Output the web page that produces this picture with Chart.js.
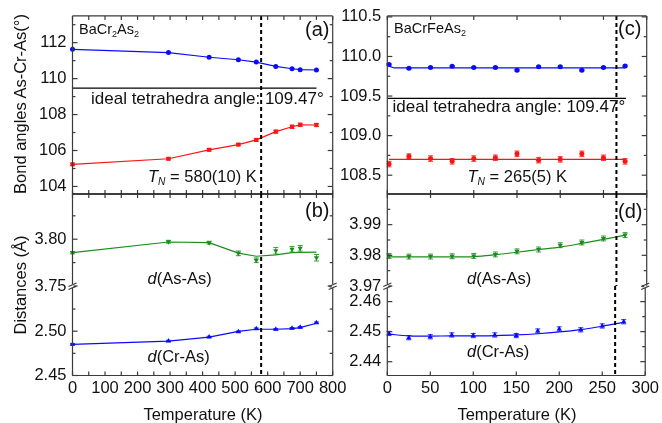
<!DOCTYPE html>
<html>
<head>
<meta charset="utf-8">
<script src="https://cdn.jsdelivr.net/npm/chart.js@4.4.0/dist/chart.umd.min.js"></script>
<style>
  body { margin: 0; background: #fff; }
  #wrap { position: relative; width: 662px; height: 423px; overflow: hidden;
          font-family: "Liberation Sans", Arial, Helvetica, sans-serif; color: #111; }
  #wrap canvas { position: absolute; left: 0; top: 0; }
  .t { position: absolute; white-space: nowrap; line-height: 1; }
  .t sub { font-size: 62%; line-height: 0; vertical-align: -0.28em; }
</style>
</head>
<body>
<div id="wrap">
  <canvas id="cA" width="662" height="423"></canvas>
  <canvas id="cB1" width="662" height="423"></canvas>
  <canvas id="cB2" width="662" height="423"></canvas>
  <canvas id="cC" width="662" height="423"></canvas>
  <canvas id="cD1" width="662" height="423"></canvas>
  <canvas id="cD2" width="662" height="423"></canvas>
</div>
<script>
// ---- BaCr2As2 (left column) ----
const tempCr = [0, 295, 420, 510, 565, 625, 675, 700, 750];
const angleHiCr = [111.63, 111.45, 111.19, 111.05, 110.92, 110.68, 110.55, 110.50, 110.48];
const angleLoCr = [105.23, 105.54, 106.04, 106.33, 106.59, 107.05, 107.32, 107.43, 107.42];
const angleLoCrErr = [0.06, 0.06, 0.06, 0.06, 0.07, 0.08, 0.09, 0.09, 0.09];
const dAsAsCr = [3.7856, 3.7973, 3.7963, 3.7849, 3.7775, 3.7877, 3.7893, 3.7903, 3.7802];
const dAsAsCrErr = [0.0012, 0.0015, 0.0015, 0.0025, 0.0025, 0.0035, 0.003, 0.003, 0.0035];
const dAsAsCrFit = [3.7856, 3.7970, 3.7963, 3.7852, 3.7818, 3.7833, 3.7856, 3.7860, 3.7862];
const dCrAsCr = [2.4852, 2.4889, 2.4935, 2.4994, 2.5028, 2.5021, 2.5033, 2.5044, 2.5096];
const dCrAsCrErr = [0.0008, 0.0008, 0.0008, 0.0008, 0.0008, 0.0008, 0.0008, 0.0008, 0.0008];
const dCrAsCrFit = [2.4852, 2.4887, 2.4933, 2.4997, 2.5022, 2.5022, 2.5030, 2.5040, 2.5090];
const idealTempCr = [0, 750];
const tnCr = 580;

// ---- BaCrFeAs2 (right column) ----
const tempFe = [2, 25, 50, 75, 100, 125, 150, 175, 200, 225, 250, 275];
const angleHiFe = [109.90, 109.85, 109.86, 109.875, 109.86, 109.86, 109.825, 109.87, 109.87, 109.825, 109.86, 109.88];
const angleHiFeErr = [0.01, 0.01, 0.01, 0.01, 0.01, 0.01, 0.01, 0.01, 0.01, 0.01, 0.01, 0.01];
const fitTempHiFe = [2, 8, 275];
const angleHiFeFit = [109.878, 109.855, 109.855];
const angleLoFe = [108.64, 108.74, 108.71, 108.675, 108.71, 108.72, 108.77, 108.69, 108.70, 108.77, 108.72, 108.675];
const angleLoFeErr = [0.035, 0.03, 0.035, 0.035, 0.035, 0.035, 0.035, 0.035, 0.035, 0.035, 0.035, 0.035];
const fitTempLoFe = [2, 275];
const angleLoFeFit = [108.70, 108.70];
const dAsAsFe = [3.9798, 3.9796, 3.9796, 3.9797, 3.9798, 3.9803, 3.9813, 3.9819, 3.9833, 3.9842, 3.9855, 3.9866];
const dAsAsFeErr = [0.0008, 0.0008, 0.0008, 0.0008, 0.0008, 0.0008, 0.0008, 0.0008, 0.0008, 0.0008, 0.0008, 0.0008];
const dAsAsFeFit = [3.9795, 3.9795, 3.9795, 3.9795, 3.9796, 3.9802, 3.9810, 3.9819, 3.9827, 3.9839, 3.9852, 3.9866];
const dCrAsFe = [2.4494, 2.4480, 2.4483, 2.4489, 2.4487, 2.4489, 2.4487, 2.4502, 2.4509, 2.4506, 2.4519, 2.4533];
const dCrAsFeErr = [0.0007, 0.0007, 0.0007, 0.0007, 0.0007, 0.0007, 0.0007, 0.0007, 0.0007, 0.0007, 0.0007, 0.0007];
const dCrAsFeFit = [2.4492, 2.4486, 2.4485, 2.4486, 2.4486, 2.4487, 2.4489, 2.4493, 2.4499, 2.4507, 2.4518, 2.4531];
const idealTempFe = [0, 276];
const tnFe = 265;

const idealAngle = 109.47;

// tick labels
const xTicksCr = [0, 100, 200, 300, 400, 500, 600, 700, 800];
const xTicksFe = [0, 50, 100, 150, 200, 250, 300];
const yTicksA = [104, 106, 108, 110, 112];
const yTicksB1 = [3.75, 3.80];
const yTicksB2 = [2.45, 2.50];
const yTicksC = [108.5, 109.0, 109.5, 110.0, 110.5];
const yTicksD1 = [3.97, 3.98, 3.99];
const yTicksD2 = [2.44, 2.45, 2.46];

const FONT = '"Liberation Sans", Arial, Helvetica, sans-serif';
Chart.defaults.font.family = FONT;
Chart.defaults.color = '#111';
const BLUE = '#0b0bff', RED = '#ff1414', GREEN = '#1c8c1c';
const CW = 662, CH = 423;

const pts = (xs, ys) => xs.map((x, i) => ({x, y: ys[i]}));
const marks = (xs, ys, color, style, r, err, rot, line) => ({
  data: pts(xs, ys), showLine: !!line, borderWidth: 1.2, pointStyle: style, pointRadius: r,
  pointRotation: rot || 0, backgroundColor: color, borderColor: color, pointBorderWidth: 0,
  err: err, clip: false
});
const curve = (xs, ys, color, smooth) => ({
  data: pts(xs, ys), showLine: true, pointRadius: 0, borderColor: color, borderWidth: 1.2,
  cubicInterpolationMode: smooth ? 'monotone' : 'default', clip: false
});

const stepsIn = (min, max, step) => {
  const out = [];
  for (let k = Math.ceil(min / step - 1e-6); k * step <= max + 1e-9; k++) out.push(k * step);
  return out;
};

// frame, inward ticks, axis break and T_N marker
function framePlugin(f) {
  return {
    id: 'frame',
    afterDraw(chart) {
      const {ctx, chartArea: a, scales: {x, y}} = chart;
      ctx.save();
      const xt = x.getPixelForValue(f.tn);
      ctx.strokeStyle = '#000';
      ctx.lineWidth = 2;
      ctx.setLineDash([4, 3]);
      ctx.beginPath(); ctx.moveTo(xt, a.top); ctx.lineTo(xt, a.bottom); ctx.stroke();
      ctx.setLineDash([]);
      ctx.lineWidth = 1.2;
      const seg = (x1, y1, x2, y2, c) => {
        ctx.strokeStyle = c || '#3a3a3a';
        ctx.beginPath(); ctx.moveTo(x1, y1); ctx.lineTo(x2, y2); ctx.stroke();
      };
      seg(a.left, a.top, a.left, a.bottom);
      seg(a.right, a.top, a.right, a.bottom);
      if (f.top) seg(a.left, a.top, a.right, a.top, f.top);
      if (f.bottom) seg(a.left, a.bottom, a.right, a.bottom, f.bottom);
      const xs = stepsIn(x.min, x.max, 50);
      xs.forEach(v => {
        const px = x.getPixelForValue(v);
        if (f.top) seg(px, a.top, px, a.top + 4);
        if (f.bottom) seg(px, a.bottom, px, a.bottom - 4);
      });
      const major = f.yTicks;
      stepsIn(y.min, y.max, f.yMinor).forEach(v => {
        const isMajor = major.some(m => Math.abs(m - v) < 1e-7);
        const len = isMajor ? 5 : 3;
        const py = y.getPixelForValue(v);
        seg(a.left, py, a.left + len, py);
        seg(a.right, py, a.right - len, py);
      });
      if (f.brk) {
        [a.left, a.right].forEach(px => {
          ctx.fillStyle = '#fff';
          ctx.fillRect(px - 1, a.top - 2, 2, 4);
          seg(px - 4, a.top + 0.5, px + 4, a.top - 3);
          seg(px - 4, a.top + 3.5, px + 4, a.top);
        });
      }
      ctx.restore();
    }
  };
}

const errPlugin = {
  id: 'errbars',
  afterDatasetsDraw(chart) {
    const {ctx, scales: {y}} = chart;
    chart.data.datasets.forEach((ds, i) => {
      if (!ds.err) return;
      const meta = chart.getDatasetMeta(i);
      ctx.save();
      ctx.strokeStyle = ds.borderColor;
      ctx.globalAlpha = 0.85;
      ctx.lineWidth = 1;
      meta.data.forEach((p, j) => {
        const v = ds.data[j].y, e = ds.err[j];
        const y1 = y.getPixelForValue(v - e), y2 = y.getPixelForValue(v + e);
        ctx.beginPath();
        ctx.moveTo(p.x, y1); ctx.lineTo(p.x, y2);
        ctx.moveTo(p.x - 2.5, y1); ctx.lineTo(p.x + 2.5, y1);
        ctx.moveTo(p.x - 2.5, y2); ctx.lineTo(p.x + 2.5, y2);
        ctx.stroke();
      });
      ctx.restore();
    });
  }
};

function panel(id, box, xr, yr, datasets, f) {
  const yw = 60, xh = f.xTicks ? 30 : 0;
  return new Chart(document.getElementById(id), {
    type: 'line',
    data: {datasets},
    options: {
      responsive: false,
      animation: false,
      events: [],
      layout: {padding: {left: box.l - yw, right: CW - box.r, top: box.t, bottom: CH - box.b - xh}},
      plugins: {legend: {display: false}, tooltip: {enabled: false}},
      scales: {
        x: {
          type: 'linear', min: xr[0], max: xr[1], display: !!f.xTicks,
          grid: {display: false, drawTicks: false}, border: {display: false},
          afterBuildTicks: s => { s.ticks = (f.xTicks || []).map(v => ({value: v})); },
          afterFit: s => { s.height = xh; },
          ticks: {padding: 3, autoSkip: false, maxRotation: 0, font: {size: 16.5}, color: '#111'}
        },
        y: {
          type: 'linear', min: yr[0], max: yr[1],
          grid: {display: false, drawTicks: false}, border: {display: false},
          afterBuildTicks: s => { s.ticks = f.yTicks.map(v => ({value: v})); },
          afterFit: s => { s.width = yw; },
          ticks: {padding: 6, autoSkip: false, font: {size: 16.5}, color: '#111',
                  callback: v => v.toFixed(f.dec)}
        }
      }
    },
    plugins: [framePlugin(f), errPlugin]
  });
}

const L = {l: 72.5, r: 332.7}, R = {l: 387.3, r: 646.7};
const rowTop = 14, rowMid = 194, rowBrk = 286, rowBot = 375.5;

// (a)
panel('cA', {l: L.l, r: L.r, t: rowTop, b: rowMid}, [0, 800], [103.58, 113.49], [
  marks(tempCr, angleHiCr, BLUE, 'circle', 2.5, null, 0, true),
  marks(tempCr, angleLoCr, RED, 'rect', 2.9, angleLoCrErr, 0, true),
  curve(idealTempCr, [idealAngle, idealAngle], '#000', false)
], {tn: tnCr, yTicks: yTicksA, yMinor: 1, dec: 0, top: '#3a3a3a', bottom: '#000'});

// (b) upper + lower
panel('cB1', {l: L.l, r: L.r, t: rowMid, b: rowBrk}, [0, 800], [3.75, 3.8483], [
  marks(tempCr, dAsAsCr, GREEN, 'triangle', 3, dAsAsCrErr, 180),
  curve(tempCr, dAsAsCrFit, GREEN, false)
], {tn: tnCr, yTicks: yTicksB1, yMinor: 0.025, dec: 2, top: '#000'});
panel('cB2', {l: L.l, r: L.r, t: rowBrk, b: rowBot}, [0, 800], [2.45, 2.551], [
  marks(tempCr, dCrAsCr, BLUE, 'triangle', 3, dCrAsCrErr),
  curve(tempCr, dCrAsCrFit, BLUE, false)
], {tn: tnCr, yTicks: yTicksB2, yMinor: 0.025, dec: 2, bottom: '#3a3a3a', brk: true, xTicks: xTicksCr});

// (c)
panel('cC', {l: R.l, r: R.r, t: rowTop, b: rowMid}, [0, 300], [108.2625, 110.5125], [
  marks(tempFe, angleHiFe, BLUE, 'circle', 2.5, angleHiFeErr),
  marks(tempFe, angleLoFe, RED, 'circle', 2.5, angleLoFeErr),
  curve(fitTempHiFe, angleHiFeFit, BLUE, false),
  curve(fitTempLoFe, angleLoFeFit, RED, false),
  curve(idealTempFe, [idealAngle, idealAngle], '#000', false)
], {tn: tnFe, yTicks: yTicksC, yMinor: 0.25, dec: 1, top: '#3a3a3a', bottom: '#000'});

// (d) upper + lower
panel('cD1', {l: R.l, r: R.r, t: rowMid, b: rowBrk}, [0, 300], [3.97, 4.0], [
  marks(tempFe, dAsAsFe, GREEN, 'triangle', 3, dAsAsFeErr, 180),
  curve(tempFe, dAsAsFeFit, GREEN, true)
], {tn: tnFe, yTicks: yTicksD1, yMinor: 0.005, dec: 2, top: '#000'});
panel('cD2', {l: R.l, r: R.r, t: rowBrk, b: rowBot}, [0, 300], [2.4354, 2.4652], [
  marks(tempFe, dCrAsFe, BLUE, 'triangle', 3, dCrAsFeErr),
  curve(tempFe, dCrAsFeFit, BLUE, true)
], {tn: tnFe, yTicks: yTicksD2, yMinor: 0.005, dec: 2, bottom: '#3a3a3a', brk: true, xTicks: xTicksFe});

// text labels
const wrap = document.getElementById('wrap');
function text(html, x, base, size, align) {
  const d = document.createElement('div');
  d.className = 't';
  d.innerHTML = html;
  d.style.fontSize = size + 'px';
  d.style.top = (base - 0.8465 * size) + 'px';
  d.style.left = x + 'px';
  if (align === 'center') d.style.transform = 'translateX(-50%)';
  wrap.appendChild(d);
}
function vtext(html, cx, cy, size) {
  const d = document.createElement('div');
  d.className = 't';
  d.innerHTML = html;
  d.style.fontSize = size + 'px';
  d.style.left = cx + 'px';
  d.style.top = cy + 'px';
  d.style.transform = 'translate(-50%, -50%) rotate(-90deg)';
  wrap.appendChild(d);
}
const tn = '<i>T</i><sub><i>N</i></sub>';
text('BaCr<sub>2</sub>As<sub>2</sub>', 79, 34, 14.5);
text('(a)', 305, 35.5, 20);
text('ideal tetrahedra angle: 109.47°', 91, 104, 17);
text(tn + ' = 580(10) K', 148, 182, 16.5);
text('(b)', 305, 217, 20);
text('<i>d</i>(As-As)', 147.5, 283.5, 16.5);
text('<i>d</i>(Cr-As)', 147.5, 362, 16.5);
text('BaCrFeAs<sub>2</sub>', 394, 33.5, 14.5);
text('(c)', 618, 35, 20);
text('ideal tetrahedra angle: 109.47°', 392.5, 112.5, 17);
text(tn + ' = 265(5) K', 467.5, 182, 16.5);
text('(d)', 618, 218, 20);
text('<i>d</i>(As-As)', 467, 283.5, 16.5);
text('<i>d</i>(Cr-As)', 467, 357, 16.5);
text('Temperature (K)', 203, 420, 16.5, 'center');
text('Temperature (K)', 517, 420, 16.5, 'center');
vtext('Bond angles As-Cr-As(°)', 19.5, 104, 16.5);
vtext('Distances (Å)', 19.5, 285, 16.5);
</script>
</body>
</html>
